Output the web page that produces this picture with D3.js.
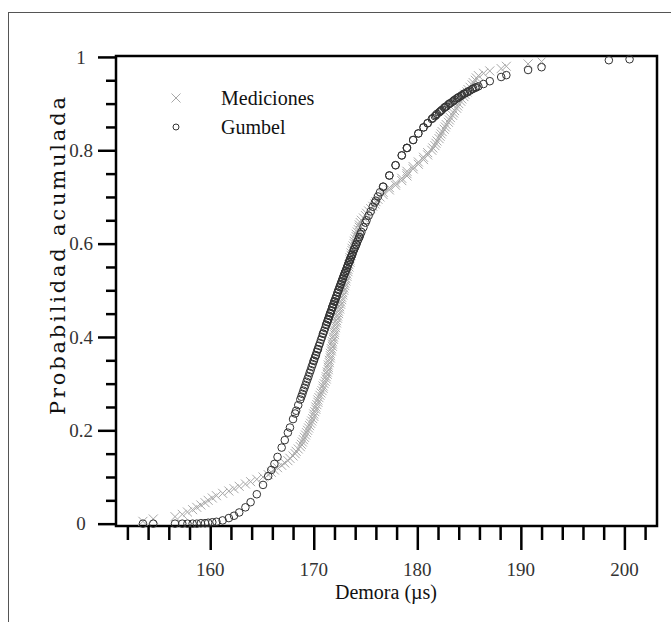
<!DOCTYPE html>
<html>
<head>
<meta charset="utf-8">
<script src="https://cdn.jsdelivr.net/npm/d3@7/dist/d3.min.js"></script>
<style>
  html, body { margin: 0; padding: 0; background: #fff; }
  svg { display: block; }
</style>
</head>
<body>
<div id="chart"></div>
<script>
// demora medida (µs), ordenada; una entrada por muestra
var demora = [
  153.5, 154.5, 156.6, 157.3, 157.8, 158.3, 158.7, 159.1, 159.5, 159.8,
  160.2, 160.6, 161.2, 161.8, 162.3, 162.8, 163.4, 163.9, 164.5, 165.1,
  165.6, 165.9, 166.2, 166.5, 166.9, 167.2, 167.5, 167.7, 168.0, 168.2,
  168.3, 168.5, 168.7, 168.8, 168.9, 169.0, 169.1, 169.2, 169.3, 169.4,
  169.5, 169.6, 169.7, 169.8, 169.9, 170.0, 170.0, 170.1, 170.2, 170.2,
  170.3, 170.4, 170.4, 170.5, 170.6, 170.7, 170.8, 170.9, 170.9, 171.0,
  171.1, 171.2, 171.2, 171.3, 171.3, 171.4, 171.4, 171.4, 171.5, 171.5,
  171.6, 171.6, 171.6, 171.7, 171.7, 171.8, 171.8, 171.8, 171.9, 171.9,
  172.0, 172.0, 172.0, 172.1, 172.1, 172.2, 172.2, 172.3, 172.3, 172.4,
  172.4, 172.5, 172.5, 172.6, 172.6, 172.7, 172.7, 172.8, 172.8, 172.9,
  172.9, 173.0, 173.0, 173.1, 173.1, 173.2, 173.2, 173.3, 173.3, 173.4,
  173.4, 173.5, 173.5, 173.5, 173.6, 173.6, 173.7, 173.7, 173.8, 173.9,
  173.9, 174.0, 174.1, 174.1, 174.2, 174.3, 174.4, 174.4, 174.5, 174.6,
  174.8, 175.0, 175.1, 175.3, 175.5, 175.7, 175.9, 176.0, 176.2, 176.4,
  176.7, 176.7, 177.3, 177.3, 177.9, 177.9, 178.5, 178.5, 179.0, 179.0,
  179.0, 179.6, 179.6, 180.1, 180.1, 180.6, 180.6, 181.0, 181.0, 181.4,
  181.5, 181.7, 181.8, 181.9, 182.1, 182.2, 182.3, 182.4, 182.6, 182.7,
  182.8, 183.0, 183.1, 183.2, 183.4, 183.5, 183.6, 183.8, 183.9, 184.0,
  184.2, 184.3, 184.5, 184.6, 184.8, 184.9, 185.1, 185.3, 185.4, 185.6,
  185.7, 185.9, 186.4, 187.0, 188.1, 188.6, 190.7, 192.0, 198.5, 200.5
];

// probabilidad acumulada de las mediciones (las dos ultimas quedan fuera)
var probMedida = [
  0.005, 0.010, 0.015, 0.020, 0.025, 0.030, 0.035, 0.040, 0.045, 0.050,
  0.055, 0.060, 0.065, 0.070, 0.075, 0.080, 0.085, 0.090, 0.095, 0.100,
  0.105, 0.110, 0.115, 0.120, 0.125, 0.130, 0.135, 0.140, 0.145, 0.150,
  0.155, 0.160, 0.165, 0.170, 0.175, 0.180, 0.185, 0.190, 0.195, 0.200,
  0.205, 0.210, 0.215, 0.220, 0.225, 0.230, 0.235, 0.240, 0.245, 0.250,
  0.255, 0.260, 0.265, 0.270, 0.275, 0.280, 0.285, 0.290, 0.295, 0.300,
  0.305, 0.310, 0.315, 0.320, 0.325, 0.330, 0.335, 0.340, 0.345, 0.350,
  0.355, 0.360, 0.365, 0.370, 0.375, 0.380, 0.385, 0.390, 0.395, 0.400,
  0.405, 0.410, 0.415, 0.420, 0.425, 0.430, 0.435, 0.440, 0.445, 0.450,
  0.455, 0.460, 0.465, 0.470, 0.475, 0.480, 0.485, 0.490, 0.495, 0.500,
  0.505, 0.510, 0.515, 0.520, 0.525, 0.530, 0.535, 0.540, 0.545, 0.550,
  0.555, 0.560, 0.565, 0.570, 0.575, 0.580, 0.585, 0.590, 0.595, 0.600,
  0.605, 0.610, 0.615, 0.620, 0.625, 0.630, 0.635, 0.640, 0.645, 0.650,
  0.655, 0.660, 0.665, 0.670, 0.675, 0.680, 0.685, 0.690, 0.695, 0.700,
  0.705, 0.710, 0.715, 0.720, 0.725, 0.730, 0.735, 0.740, 0.745, 0.750,
  0.755, 0.760, 0.765, 0.770, 0.775, 0.780, 0.785, 0.790, 0.795, 0.800,
  0.805, 0.810, 0.815, 0.820, 0.825, 0.830, 0.835, 0.840, 0.845, 0.850,
  0.855, 0.860, 0.865, 0.870, 0.875, 0.880, 0.885, 0.890, 0.895, 0.900,
  0.905, 0.910, 0.915, 0.920, 0.925, 0.930, 0.935, 0.940, 0.945, 0.950,
  0.955, 0.960, 0.965, 0.970, 0.975, 0.980, 0.985, 0.990, null, null
];

// ajuste Gumbel evaluado en cada demora
var probGumbel = [
  0.000, 0.000, 0.000, 0.000, 0.000, 0.000, 0.000, 0.001, 0.001, 0.002,
  0.003, 0.004, 0.007, 0.012, 0.017, 0.024, 0.035, 0.046, 0.063, 0.083,
  0.102, 0.115, 0.128, 0.143, 0.163, 0.179, 0.195, 0.206, 0.224, 0.236,
  0.242, 0.254, 0.266, 0.272, 0.278, 0.285, 0.291, 0.297, 0.304, 0.310,
  0.316, 0.323, 0.329, 0.336, 0.342, 0.349, 0.349, 0.355, 0.361, 0.361,
  0.368, 0.374, 0.374, 0.381, 0.387, 0.394, 0.400, 0.407, 0.407, 0.413,
  0.419, 0.426, 0.426, 0.432, 0.432, 0.438, 0.438, 0.438, 0.445, 0.445,
  0.451, 0.451, 0.451, 0.457, 0.457, 0.464, 0.464, 0.464, 0.470, 0.470,
  0.476, 0.476, 0.476, 0.482, 0.482, 0.488, 0.488, 0.495, 0.495, 0.501,
  0.501, 0.507, 0.507, 0.513, 0.513, 0.519, 0.519, 0.525, 0.525, 0.531,
  0.531, 0.537, 0.537, 0.542, 0.542, 0.548, 0.548, 0.554, 0.554, 0.560,
  0.560, 0.565, 0.565, 0.565, 0.571, 0.571, 0.576, 0.576, 0.582, 0.588,
  0.588, 0.593, 0.598, 0.598, 0.604, 0.609, 0.614, 0.614, 0.620, 0.625,
  0.635, 0.645, 0.650, 0.660, 0.669, 0.679, 0.688, 0.692, 0.701, 0.710,
  0.722, 0.722, 0.746, 0.746, 0.768, 0.768, 0.789, 0.789, 0.805, 0.805,
  0.805, 0.822, 0.822, 0.836, 0.836, 0.849, 0.849, 0.858, 0.858, 0.867,
  0.869, 0.873, 0.875, 0.878, 0.881, 0.883, 0.885, 0.887, 0.891, 0.893,
  0.894, 0.898, 0.900, 0.901, 0.904, 0.906, 0.908, 0.911, 0.912, 0.914,
  0.916, 0.918, 0.921, 0.922, 0.924, 0.926, 0.928, 0.931, 0.932, 0.934,
  0.935, 0.937, 0.942, 0.948, 0.957, 0.961, 0.972, 0.978, 0.993, 0.995
];

var xMajor = [160, 170, 180, 190, 200];
var xMinor = [152, 154, 156, 158, 162, 164, 166, 168, 172, 174, 176, 178,
              182, 184, 186, 188, 192, 194, 196, 198, 202];
var yMajor = [0, 0.2, 0.4, 0.6, 0.8, 1];
var yMinor = [0.05, 0.1, 0.15, 0.25, 0.3, 0.35, 0.45, 0.5, 0.55, 0.65, 0.7,
              0.75, 0.85, 0.9, 0.95];
var yLabels = ["0", "0.2", "0.4", "0.6", "0.8", "1"];
var series = ["Mediciones", "Gumbel"];

var W = 671, H = 622;
var pL = 116, pR = 657, pT = 56, pB = 526;
var serif = "'Liberation Serif', 'Times New Roman', serif";

var svg = d3.select("#chart").append("svg")
  .attr("width", W).attr("height", H);

// marco exterior
svg.append("rect")
  .attr("x", 8.5).attr("y", 12.5)
  .attr("width", 700).attr("height", 700)
  .attr("fill", "none").attr("stroke", "#555").attr("stroke-width", 1);

var x = d3.scaleLinear().domain([150.9, 203.15]).range([pL, pR]);
var y = d3.scaleLinear().domain([-0.005, 1.002]).range([pB, pT]);

// ticks eje x
var xMinAxis = d3.axisBottom(x).tickValues(xMinor).tickSize(14).tickFormat("");
var xMajAxis = d3.axisBottom(x).tickValues(xMajor).tickSize(24).tickFormat("");
[xMinAxis, xMajAxis].forEach(function (ax) {
  var g = svg.append("g").attr("transform", "translate(0," + pB + ")").call(ax);
  g.select(".domain").remove();
  g.selectAll("line").attr("stroke", "#000").attr("stroke-width", 2.5);
});
svg.selectAll(".xlab").data(xMajor).enter().append("text")
  .attr("class", "xlab")
  .attr("x", function (d) { return x(d); })
  .attr("y", 576)
  .attr("text-anchor", "middle")
  .style("font-family", serif).style("font-size", "19px").style("fill", "#333")
  .text(function (d) { return d; });

// ticks eje y
var yMinAxis = d3.axisLeft(y).tickValues(yMinor).tickSize(10).tickFormat("");
var yMajAxis = d3.axisLeft(y).tickValues(yMajor).tickSize(18).tickFormat("");
[yMinAxis, yMajAxis].forEach(function (ax) {
  var g = svg.append("g").attr("transform", "translate(" + pL + ",0)").call(ax);
  g.select(".domain").remove();
  g.selectAll("line").attr("stroke", "#000").attr("stroke-width", 2.5);
});
svg.selectAll(".ylab").data(yMajor).enter().append("text")
  .attr("class", "ylab")
  .attr("x", 81)
  .attr("y", function (d) { return y(d); })
  .attr("dy", "0.35em")
  .attr("text-anchor", "middle")
  .style("font-family", serif).style("font-size", "19px").style("fill", "#333")
  .text(function (d, i) { return yLabels[i]; });

// caja del grafico
svg.append("rect")
  .attr("x", pL).attr("y", pT)
  .attr("width", pR - pL).attr("height", pB - pT)
  .attr("fill", "none").attr("stroke", "#000").attr("stroke-width", 2.5);

// titulos
svg.append("text")
  .attr("x", 386).attr("y", 599)
  .attr("text-anchor", "middle")
  .style("font-family", serif).style("font-size", "20px").style("fill", "#111")
  .text("Demora (µs)");

svg.append("text")
  .attr("transform", "translate(65,256) rotate(-90)")
  .attr("text-anchor", "middle")
  .attr("textLength", 318).attr("lengthAdjust", "spacing")
  .style("font-family", "'DejaVu Serif', serif").style("font-size", "21px").style("fill", "#111")
  .text("Probabilidad acumulada");

var crossPath = "M-4.5,-4.5L4.5,4.5M-4.5,4.5L4.5,-4.5";

// mediciones
svg.append("g").selectAll("path")
  .data(demora.map(function (d, i) { return [d, probMedida[i]]; })
    .filter(function (d) { return d[1] !== null; }))
  .enter().append("path")
  .attr("d", crossPath)
  .attr("transform", function (d) { return "translate(" + x(d[0]) + "," + y(d[1]) + ")"; })
  .attr("fill", "none").attr("stroke", "#a8a8a8").attr("stroke-width", 1);

// gumbel
svg.append("g").selectAll("circle")
  .data(demora.map(function (d, i) { return [d, probGumbel[i]]; }))
  .enter().append("circle")
  .attr("cx", function (d) { return x(d[0]); })
  .attr("cy", function (d) { return y(d[1]); })
  .attr("r", 3.8)
  .attr("fill", "none").attr("stroke", "#333").attr("stroke-width", 1);

// leyenda
var leg = svg.append("g");
leg.append("path").attr("d", crossPath)
  .attr("transform", "translate(176,98)")
  .attr("fill", "none").attr("stroke", "#a8a8a8").attr("stroke-width", 1);
leg.append("circle").attr("cx", 176).attr("cy", 127).attr("r", 3)
  .attr("fill", "none").attr("stroke", "#333").attr("stroke-width", 1);
leg.selectAll("text").data(series).enter().append("text")
  .attr("x", 221)
  .attr("y", function (d, i) { return 98 + i * 29; })
  .attr("dy", "0.33em")
  .style("font-family", serif).style("font-size", "20px").style("fill", "#111")
  .text(function (d) { return d; });
</script>
</body>
</html>
